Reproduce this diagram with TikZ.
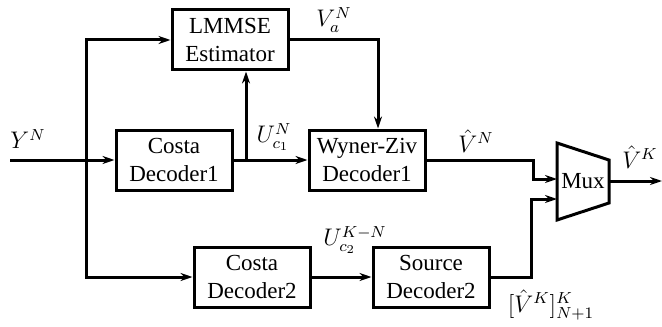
\documentclass[tikz,border=0pt]{standalone}
\usepackage{fontspec}
\setmainfont{Liberation Serif}
\usetikzlibrary{positioning, arrows.meta}
\newcommand{\blockfont}{\fontsize{11.5}{14}\selectfont}
\tikzset{
  >={Stealth[length=6pt, width=4pt]}, % narrow arrow heads
  block/.style={draw, line width=1.5pt, minimum width=58pt, minimum height=30pt, align=center, font=\blockfont}, % the decoder boxes
  sig/.style={->, line width=1.5pt}, % signal lines
  lbl/.style={inner sep=0pt, font=\blockfont}, % signal names
}

\begin{document}
\begin{tikzpicture}[x=0.5pt, y=-0.5pt]
    \useasboundingbox (0,0) rectangle (662,326);

    % blocks
    \node[block] (lmmse) at (230,40) {LMMSE\\Estimator};
    \node[block] (costa1) at (174,160) {Costa\\Decoder1};
    \node[block, right=37pt of costa1] (wz) {Wyner-Ziv\\Decoder1};
    \node[block] (costa2) at (252,277) {Costa\\Decoder2};
    \node[block, right=30pt of costa2] (src2) {Source\\Decoder2};

    % multiplexer
    \draw[line width=1.5pt] (557,143) -- (609,160) -- (609,203) -- (557,220) -- cycle;
    \node[lbl] (mux) at (583,181) {Mux};
    \coordinate (muxin1) at (557,179);
    \coordinate (muxin2) at (557,199);
    \coordinate (muxout) at (609,181);
    \coordinate (out) at (662,181);
    \coordinate (in) at (10,160);
    \coordinate (split) at (86,160);
    \coordinate (tap) at (246,160);

    % connections
    \draw[sig] (in) -- (costa1.west);
    \draw[sig] (split) |- (lmmse.west);
    \draw[sig] (split) |- (costa2.west);
    \draw[sig] (costa1) -- (wz);
    \draw[sig] (tap) -- (tap |- lmmse.south);
    \draw[sig] (lmmse.east) -| ([xshift=5.5pt]wz.north);
    \draw[sig] (wz.east) -- ++(107,0) |- (muxin1);
    \draw[sig] (costa2) -- (src2);
    \draw[sig] (src2.east) -- ++(41,0) |- (muxin2);
    \draw[sig] (muxout) -- (out);

    % labels
    \node[lbl] (yn) at (28,139) {$Y^N$};
    \node[lbl] (uc1) at (274,137) {$U_{c_1}^N$};
    \node[lbl] (van) at (334,20) {$V_a^N$};
    \node[lbl] (vhn) at (476,141) {$\hat{V}^N$};
    \node[lbl] (vhk) at (640,157) {$\hat{V}^K$};
    \node[lbl] (uc2) at (355,240) {$U_{c_2}^{K-N}$};
    \node[lbl] (vrest) at (551,305) {$[\hat{V}^K]_{N+1}^K$};
\end{tikzpicture}
\end{document}
